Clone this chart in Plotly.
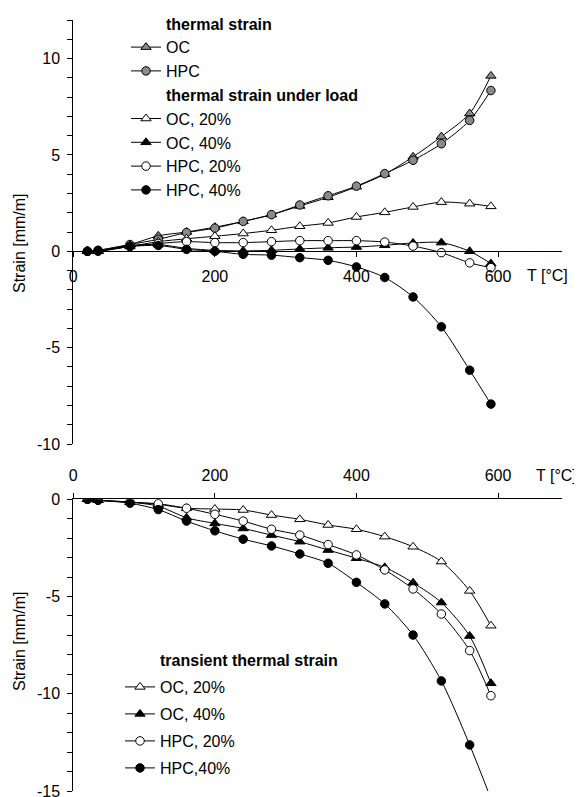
import plotly.graph_objects as go

# ---------------- data ----------------
T = [20, 35, 80, 120, 160, 200, 240, 280, 320, 360, 400, 440, 480, 520, 560, 590]

# thermal strain (free)
ts_OC = [0, 0.05, 0.35, 0.8, 1.0, 1.25, 1.55, 1.9, 2.35, 2.8, 3.35, 4.0, 4.9, 5.95, 7.15, 9.1]
ts_HPC = [0, 0.05, 0.35, 0.62, 0.97, 1.2, 1.55, 1.9, 2.4, 2.88, 3.38, 4.03, 4.72, 5.58, 6.79, 8.34]
# thermal strain under load
tsl_OC20 = [0, 0, 0.25, 0.5, 0.65, 0.78, 0.92, 1.09, 1.3, 1.47, 1.78, 2.02, 2.3, 2.55, 2.47, 2.33]
tsl_OC40 = [0, 0, 0.3, 0.35, 0.15, 0.05, 0.02, 0.05, 0.12, 0.18, 0.22, 0.31, 0.43, 0.45, 0.0, -0.64]
tsl_HPC20 = [0, 0, 0.25, 0.4, 0.5, 0.45, 0.45, 0.5, 0.55, 0.55, 0.55, 0.48, 0.27, -0.07, -0.6, -0.85]
tsl_HPC40 = [0, 0.03, 0.25, 0.3, 0.1, 0.0, -0.16, -0.2, -0.33, -0.47, -0.81, -1.36, -2.37, -3.92, -6.17, -7.93]
# transient thermal strain
tts_OC20 = [0, -0.05, -0.14, -0.26, -0.46, -0.5, -0.55, -0.81, -1.03, -1.32, -1.54, -1.92, -2.44, -3.2, -4.71, -6.5]
tts_OC40 = [0, -0.05, -0.15, -0.35, -0.95, -1.24, -1.5, -1.84, -2.18, -2.61, -3.03, -3.5, -4.29, -5.31, -7.03, -9.46]
tts_HPC20 = [0, -0.05, -0.15, -0.23, -0.46, -0.77, -1.12, -1.54, -1.84, -2.33, -2.86, -3.63, -4.61, -5.9, -7.78, -10.1]
tts_HPC40 = [0, -0.05, -0.2, -0.53, -1.12, -1.62, -2.05, -2.4, -2.81, -3.29, -4.27, -5.38, -6.98, -9.34, -12.63, -15.4]

x_ticks = [0, 200, 400, 600]
top_yticks = list(range(-10, 13))
bot_yticks = list(range(-15, 1))

# ---------------- layout constants ----------------
# the page body has an 8px margin, so positions are shifted by it
OFF = 8
W, H = 582, 797
FONT = "Liberation Sans, Arial, sans-serif"
FS = 16
GRAY = "#8a8a8a"

def px_x(p):
    return (p - OFF) / W

def px_y(p):
    return 1 - (p - OFF) / H

x_dom = [px_x(73.3), px_x(561.7)]
top_dom = [px_y(444), px_y(20)]
bot_dom = [px_y(791), px_y(499.3)]
top_range = [-10, 12]
bot_range = [-15, 0]
zero_pos = top_dom[0] + (0 - top_range[0]) / (top_range[1] - top_range[0]) * (top_dom[1] - top_dom[0])

fig = go.Figure()

def series(x, y, name, symbol, fill, xa, ya, legend, group=None):
    fig.add_trace(go.Scatter(
        x=x, y=y, name=name, mode="lines+markers",
        xaxis=xa, yaxis=ya, legend=legend, legendgroup=group,
        line=dict(color="black", width=1, shape="spline", smoothing=0.8),
        marker=dict(symbol=symbol, size=9 if "triangle" in symbol else 8.5,
                    color=fill, line=dict(color="black", width=1)),
    ))

def header(text, xa, ya, legend, group=None):
    fig.add_trace(go.Scatter(
        x=[None], y=[None], name="<b>%s</b>" % text, mode="lines",
        xaxis=xa, yaxis=ya, legend=legend, legendgroup=group,
        line=dict(color="rgba(0,0,0,0)", width=0),
    ))

# top chart
header("thermal strain", "x", "y", "legend")
series(T, ts_OC, "OC", "triangle-up", GRAY, "x", "y", "legend")
series(T, ts_HPC, "HPC", "circle", GRAY, "x", "y", "legend")
header("thermal strain under load", "x", "y", "legend")
series(T, tsl_OC20, "OC, 20%", "triangle-up", "white", "x", "y", "legend")
series(T, tsl_OC40, "OC, 40%", "triangle-up", "black", "x", "y", "legend")
series(T, tsl_HPC20, "HPC, 20%", "circle", "white", "x", "y", "legend")
series(T, tsl_HPC40, "HPC, 40%", "circle", "black", "x", "y", "legend")

# bottom chart
header("transient thermal strain", "x2", "y2", "legend2", "g0")
series(T, tts_OC20, "OC, 20%", "triangle-up", "white", "x2", "y2", "legend2", "g1")
series(T, tts_OC40, "OC, 40%", "triangle-up", "black", "x2", "y2", "legend2", "g2")
series(T, tts_HPC20, "HPC, 20%", "circle", "white", "x2", "y2", "legend2", "g3")
series(T, tts_HPC40, "HPC,40%", "circle", "black", "x2", "y2", "legend2", "g4")

axis_common = dict(showgrid=False, zeroline=False, showline=True, linecolor="black",
                   linewidth=1, ticks="outside", ticklen=5, tickcolor="black", tickwidth=1,
                   automargin=False, ticklabeloverflow="allow",
                   tickfont=dict(family=FONT, size=FS, color="black"))

def note(text, x, y, angle=0, size=FS):
    return dict(text=text, xref="paper", yref="paper", x=px_x(x), y=px_y(y),
                xanchor="center", yanchor="middle", textangle=angle,
                showarrow=False, font=dict(family=FONT, size=size, color="black"))

fig.update_layout(
    width=W, height=H,
    margin=dict(l=0, r=0, t=0, b=0, pad=0, autoexpand=False),
    paper_bgcolor="white", plot_bgcolor="white",
    font=dict(family=FONT, size=FS, color="black"),
    xaxis=dict(domain=x_dom, range=[0, 690], anchor="free", position=zero_pos,
               tickvals=x_ticks, ticktext=[str(v) for v in x_ticks],
               ticklabelstandoff=6, **axis_common),
    yaxis=dict(domain=top_dom, range=top_range, anchor="x",
               tickvals=top_yticks,
               ticktext=[str(v) if v % 5 == 0 else "" for v in top_yticks],
               ticklabelstandoff=4, **axis_common),
    xaxis2=dict(domain=x_dom, range=[0, 690], anchor="y2", side="top",
                tickvals=x_ticks, ticktext=[str(v) for v in x_ticks],
                ticklabelstandoff=6, **axis_common),
    yaxis2=dict(domain=bot_dom, range=bot_range, anchor="x2",
                tickvals=bot_yticks,
                ticktext=[str(v) if v % 5 == 0 else "" for v in bot_yticks],
                ticklabelstandoff=4, **axis_common),
    showlegend=True,
    legend=dict(x=px_x(126), y=px_y(6.4), xanchor="left", yanchor="top",
                bgcolor="rgba(0,0,0,0)", borderwidth=0, traceorder="normal",
                tracegroupgap=0, font=dict(family=FONT, size=FS, color="black")),
    legend2=dict(x=px_x(120), y=px_y(643), xanchor="left", yanchor="top",
                 bgcolor="rgba(0,0,0,0)", borderwidth=0, traceorder="grouped",
                 tracegroupgap=3.2, font=dict(family=FONT, size=FS, color="black")),
    annotations=[
        note("T [°C]", 547, 275),
        note("T [°C]", 556, 475),
        note("Strain [mm/m]", 19, 243, -90),
        note("Strain [mm/m]", 19, 641, -90),
    ],
)

fig.write_html("out.html")
